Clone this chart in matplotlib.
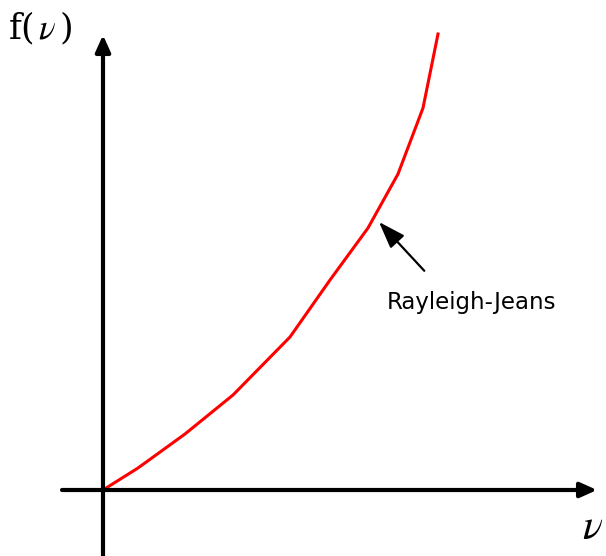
import matplotlib
matplotlib.use("Agg")
import matplotlib.pyplot as plt

# Rayleigh-Jeans curve (arbitrary units, origin at axis crossing)
nu = [0, 35, 82, 130, 187, 227, 265, 295, 320, 335]
f_nu = [0, 22, 56, 95, 153, 210, 262, 316, 382, 456]

fig = plt.figure(figsize=(6.06, 5.56), dpi=100)
ax = fig.add_axes([0, 0, 1, 1])
ax.set_xlim(-103, 503)
ax.set_ylim(-66, 490)
ax.axis("off")

# axes with arrow heads
arr = dict(arrowstyle="-|>,head_length=1.0,head_width=0.45", color="black", lw=3,
           shrinkA=0, shrinkB=0)
ax.annotate("", xy=(494, 0), xytext=(-41, 0), arrowprops=arr)
ax.annotate("", xy=(0, 455), xytext=(0, -66), arrowprops=arr)

ax.plot(nu, f_nu, color="red", lw=2.2, solid_joinstyle="miter")

ax.text(-95, 480, r"f($\,\nu\,$)", fontsize=25, family="DejaVu Serif",
        math_fontfamily="stix", va="top", ha="left")
ax.text(479, -16, r"$\nu$", fontsize=30, math_fontfamily="stix", va="top", ha="left")

ax.annotate("Rayleigh-Jeans", xy=(276, 268), xytext=(284, 187),
            fontsize=16.5, ha="left", va="center",
            arrowprops=dict(arrowstyle="-|>,head_length=1.0,head_width=0.35",
                            color="black", lw=1.6, shrinkA=0, shrinkB=0,
                            relpos=(0.22, 1.9)))

fig.savefig("out.png", dpi=100)
